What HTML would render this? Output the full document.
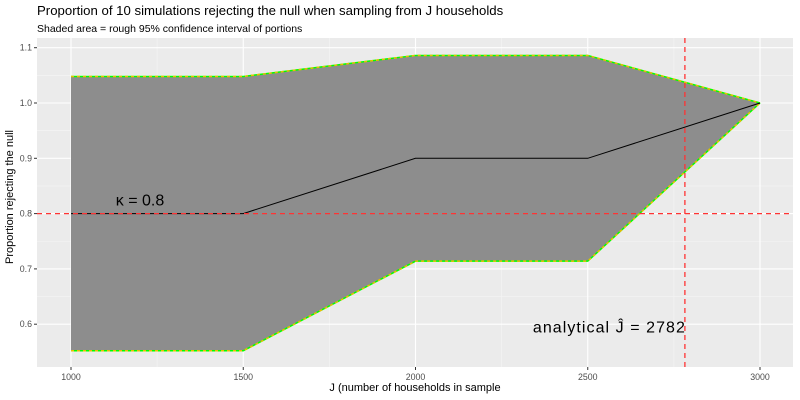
<!DOCTYPE html>
<html><head><meta charset="utf-8"><style>
html,body{margin:0;padding:0;background:#fff;}
svg{display:block;font-family:"Liberation Sans",sans-serif;}
</style></head><body>
<svg id="chart" width="800" height="400">
<text x="37" y="15" font-size="13.2" fill="#000">Proportion of 10 simulations rejecting the null when sampling from J households</text>
<text x="37" y="32" font-size="10.5" fill="#000">Shaded area = rough 95% confidence interval of portions</text>
<rect x="37" y="38" width="756" height="329" fill="#ebebeb"/>
<g id="grid"></g>
<g id="marks"></g>
<g id="axes"></g>
<text x="18" y="202" font-size="11" transform="rotate(-90 13 202)" text-anchor="middle">Proportion rejecting the null</text>
<text x="415" y="391" font-size="11" text-anchor="middle">J (number of households in sample</text>
</svg>
<script>
const jValues=[1000,1500,2000,2500,3000];
const meanProp=[0.8,0.8,0.9,0.9,1.0];
const upperCI=[1.048,1.048,1.086,1.086,1.0];
const lowerCI=[0.552,0.552,0.714,0.714,1.0];
const xTicks=[1000,1500,2000,2500,3000];
const yTicks=[0.6,0.7,0.8,0.9,1.0,1.1];
const kappa=0.8;
const analyticalJ=2782;

const NS='http://www.w3.org/2000/svg';
const X=v=>71+(v-1000)*(689/2000);
const Y=v=>103-(v-1.0)*553;
function mk(tag,attrs,parent){const e=document.createElementNS(NS,tag);for(const k in attrs)e.setAttribute(k,attrs[k]);document.getElementById(parent).appendChild(e);return e;}
for(let i=0;i<xTicks.length-1;i++){const m=(xTicks[i]+xTicks[i+1])/2;const g=mk('line',{x1:X(m),x2:X(m),y1:38,y2:367,stroke:'#f5f5f5','stroke-width':0.6},'grid');}
for(let i=0;i<yTicks.length-1;i++){const m=(yTicks[i]+yTicks[i+1])/2;const g=mk('line',{x1:37,x2:793,y1:Y(m),y2:Y(m),stroke:'#f5f5f5','stroke-width':0.6},'grid');}
xTicks.forEach(t=>{const g=mk('line',{x1:X(t),x2:X(t),y1:38,y2:367,stroke:'#fff','stroke-width':1.1},'grid');
const tk=mk('line',{x1:X(t),x2:X(t),y1:367,y2:370,stroke:'#333'},'axes');
const l=mk('text',{x:X(t),y:380,'font-size':8.8,fill:'#4d4d4d','text-anchor':'middle'},'axes');l.textContent=t;});
yTicks.forEach(t=>{const g=mk('line',{x1:37,x2:793,y1:Y(t),y2:Y(t),stroke:'#fff','stroke-width':1.1},'grid');
const tk=mk('line',{x1:34,x2:37,y1:Y(t),y2:Y(t),stroke:'#333'},'axes');
const l=mk('text',{x:32,y:Y(t)+3,'font-size':8.8,fill:'#4d4d4d','text-anchor':'end'},'axes');l.textContent=t.toFixed(1);});
let d='';jValues.forEach((j,i)=>{d+=(i?'L':'M')+X(j)+','+Y(upperCI[i]);});
for(let i=jValues.length-1;i>=0;i--)d+='L'+X(jValues[i])+','+Y(lowerCI[i]);d+='Z';
const rib=mk('path',{d:d,fill:'#8d8d8d'},'marks');
function line(arr,attrs,name){const p=mk('polyline',Object.assign({points:jValues.map((j,i)=>X(j)+','+Y(arr[i])).join(' '),fill:'none'},attrs),'marks');}
line(upperCI,{stroke:'#00ff00','stroke-width':1.5},'upper-ci-base');
line(upperCI,{stroke:'#e8c000','stroke-width':1.5,'stroke-dasharray':'3 3'},'upper-ci-line');
line(lowerCI,{stroke:'#00ff00','stroke-width':1.5},'lower-ci-base');
line(lowerCI,{stroke:'#e8c000','stroke-width':1.5,'stroke-dasharray':'3 3'},'lower-ci-line');
line(meanProp,{stroke:'#000','stroke-width':1},'mean-line');
const hl=mk('line',{x1:37,x2:793,y1:Y(kappa),y2:Y(kappa),stroke:'#ff3333','stroke-width':1.3,'stroke-dasharray':'5 4'},'marks');
const vl=mk('line',{x1:X(analyticalJ),x2:X(analyticalJ),y1:38,y2:367,stroke:'#ff3333','stroke-width':1.3,'stroke-dasharray':'5 4'},'marks');
const k=mk('text',{x:X(1130),y:Y(kappa)-8,'font-size':16,fill:'#000'},'marks');k.textContent='κ = 0.8';
const a=mk('text',{x:X(analyticalJ),y:Y(0.58)-3,'font-size':16,fill:'#000','text-anchor':'end',textLength:152,lengthAdjust:'spacing'},'marks');a.textContent='analytical Ĵ = '+analyticalJ;
</script>
</body></html>
